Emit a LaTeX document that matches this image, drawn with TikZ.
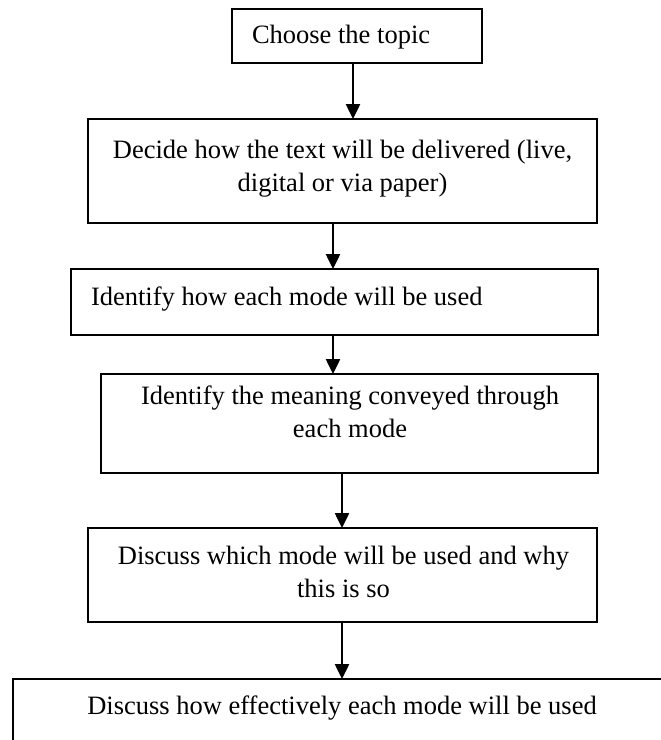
\documentclass[tikz,border=0pt]{standalone}
\usepackage{fontspec}
\setmainfont{Liberation Serif}
\usetikzlibrary{arrows.meta}
\begin{document}
\begin{tikzpicture}[x=1pt,y=-1pt,
  box/.style={draw=black, line width=1.8pt, rectangle, inner sep=0pt, outer sep=0pt},
  lbl/.style={inner sep=0pt, outer sep=0pt, align=center, font=\fontsize{26.5}{33}\selectfont},
  arr/.style={line width=2.5pt, -{Triangle[length=15pt,width=14pt]}}]
\path[use as bounding box, clip] (0,0) rectangle (661,740);
\fill[white] (0,0) rectangle (661,740);
% boxes
\node[box, minimum width=250pt, minimum height=54pt] (b1) at (357,36) {};
\node[box, minimum width=509pt, minimum height=104pt] (b2) at (342.5,171) {};
\node[box, minimum width=527pt, minimum height=66pt] (b3) at (334.5,302) {};
\node[box, minimum width=497pt, minimum height=99pt] (b4) at (349.5,423.5) {};
\node[box, minimum width=509pt, minimum height=94pt] (b5) at (342.5,575) {};
\node[box, minimum width=667pt, minimum height=81pt] (b6) at (346.5,719.5) {};
% texts (multi-line nodes: base anchor is on the last line)
\node[lbl, anchor=base west] (t1) at (252,43) {Choose the topic};
\node[lbl, anchor=base] (t2) at (342.5,191) {Decide how the text will be delivered (live,\\digital or via paper)};
\node[lbl, anchor=base west] (t3) at (91,305) {Identify how each mode will be used};
\node[lbl, anchor=base] (t4) at (350,437) {Identify the meaning conveyed through\\each mode};
\node[lbl, anchor=base] (t5) at (343.5,597) {Discuss which mode will be used and why\\this is so};
\node[lbl, anchor=base] (t6) at (342,714) {Discuss how effectively each mode will be used};
% arrow columns
\coordinate (c1) at (353,0);
\coordinate (c2) at (333,0);
\coordinate (c3) at (333,0);
\coordinate (c4) at (342,0);
\coordinate (c5) at (342,0);
\draw[arr] (b1.south -| c1) -- (b2.north -| c1);
\draw[arr] (b2.south -| c2) -- (b3.north -| c2);
\draw[arr] (b3.south -| c3) -- (b4.north -| c3);
\draw[arr] (b4.south -| c4) -- (b5.north -| c4);
\draw[arr] (b5.south -| c5) -- (b6.north -| c5);
\end{tikzpicture}
\end{document}
